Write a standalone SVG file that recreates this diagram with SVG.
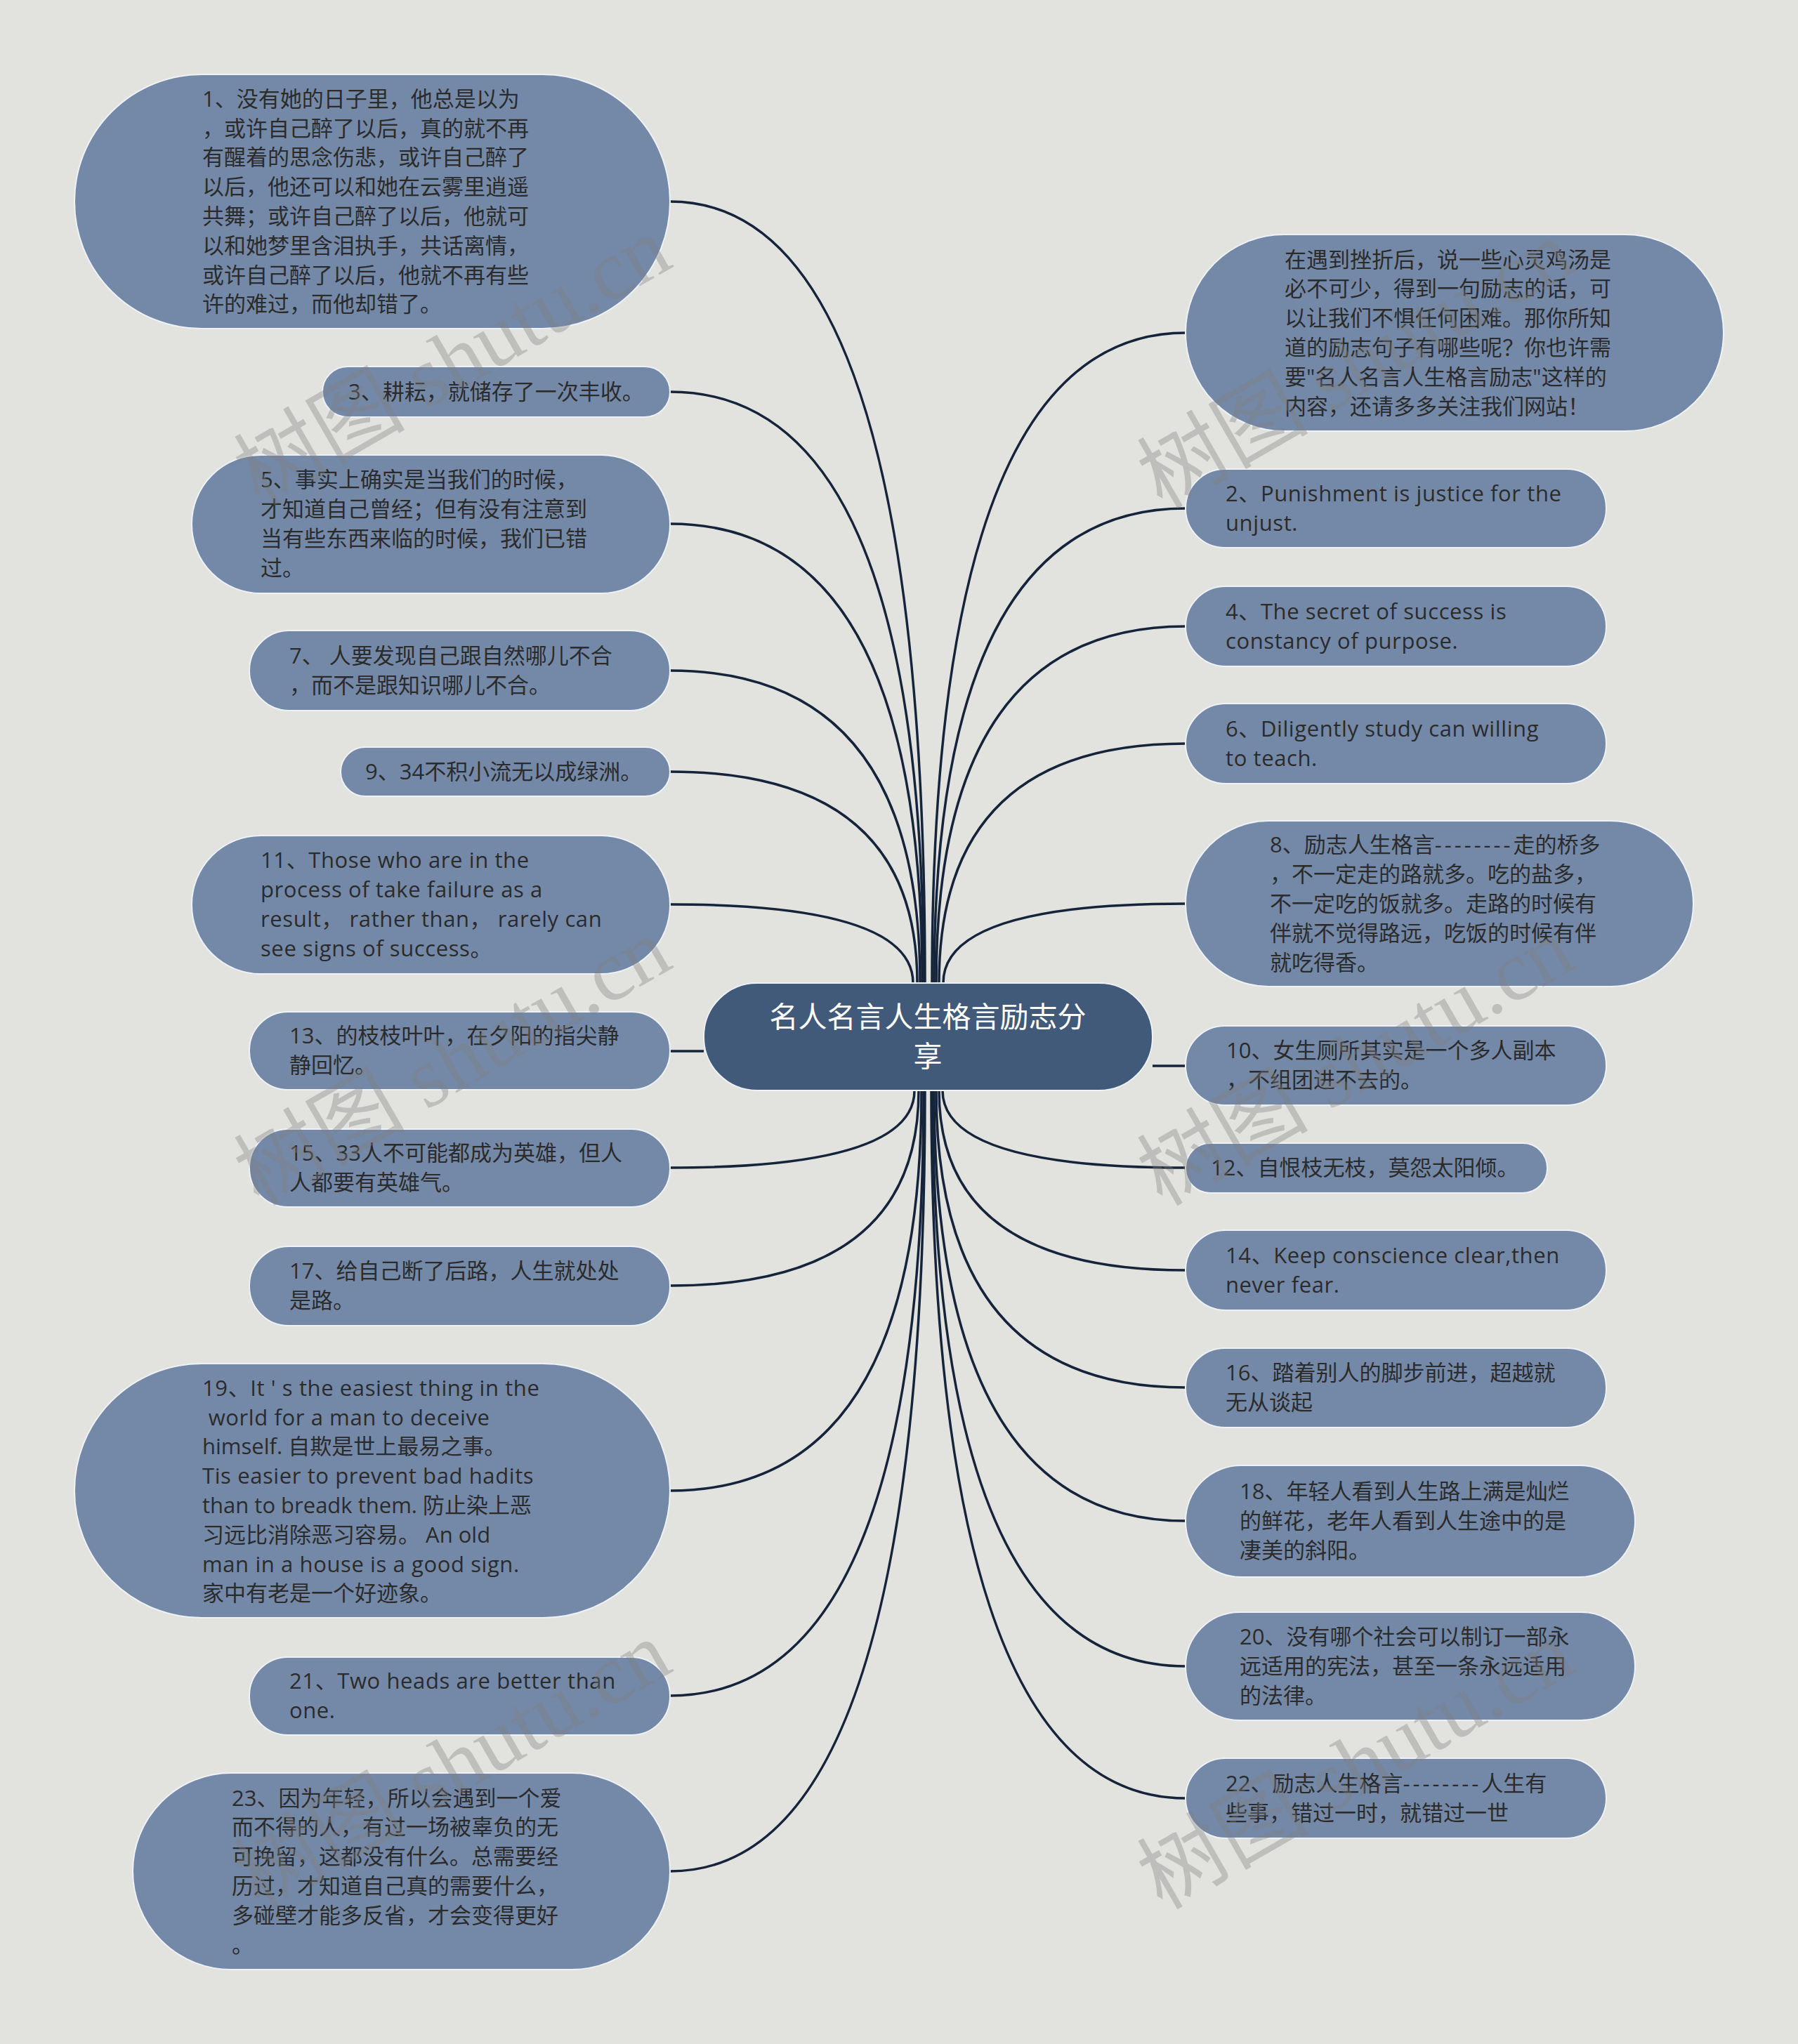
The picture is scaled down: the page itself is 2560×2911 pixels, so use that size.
<svg xmlns="http://www.w3.org/2000/svg" width="2560" height="2911" viewBox="0 0 2560 2911">
<style>
.n{fill:#7489a8;stroke:#eef2f7;stroke-width:2}
.c{fill:#415a7a;stroke:#eef2f7;stroke-width:2}
.t{font-family:"Open Sans","Noto Sans CJK SC",sans-serif;font-size:31px;fill:#2b2b2b}
.en{letter-spacing:0.6px}
.d{letter-spacing:4px}
.ct{font-family:"Open Sans","Noto Sans CJK SC",sans-serif;font-size:41px;fill:#ffffff;text-anchor:middle}
.e{fill:none;stroke:#15243a;stroke-width:3.5}
.w{font-family:"Liberation Serif","Noto Sans CJK SC",serif;font-size:122px;fill:#808080;fill-opacity:0.36;text-anchor:middle}
</style>
<rect width="2560" height="2911" fill="#e2e2de"/>
<g id="connectors">
<path class="e" d="M954,287 Q1317,287 1317,1400"/>
<path class="e" d="M954,558 Q1315,558 1315,1400"/>
<path class="e" d="M954,746 Q1313,746 1313,1400"/>
<path class="e" d="M954,955 Q1310,955 1310,1400"/>
<path class="e" d="M954,1099 Q1306,1099 1306,1400"/>
<path class="e" d="M954,1288 Q1300,1288 1300,1400"/>
<path class="e" d="M954,1497 L1002,1497"/>
<path class="e" d="M954,1663 Q1302,1663 1302,1553"/>
<path class="e" d="M954,1831 Q1308,1831 1308,1553"/>
<path class="e" d="M954,2123 Q1312,2123 1312,1553"/>
<path class="e" d="M954,2415 Q1315,2415 1315,1553"/>
<path class="e" d="M954,2665 Q1317,2665 1317,1553"/>
<path class="e" d="M1688,474 Q1327,474 1327,1400"/>
<path class="e" d="M1688,724 Q1330,724 1330,1400"/>
<path class="e" d="M1688,892 Q1333,892 1333,1400"/>
<path class="e" d="M1688,1059 Q1337,1059 1337,1400"/>
<path class="e" d="M1688,1287 Q1343,1287 1343,1400"/>
<path class="e" d="M1641,1518 L1688,1518"/>
<path class="e" d="M1688,1663 Q1342,1663 1342,1553"/>
<path class="e" d="M1688,1809 Q1337,1809 1337,1553"/>
<path class="e" d="M1688,1976 Q1333,1976 1333,1553"/>
<path class="e" d="M1688,2166 Q1330,2166 1330,1553"/>
<path class="e" d="M1688,2373 Q1328,2373 1328,1553"/>
<path class="e" d="M1688,2561 Q1326,2561 1326,1553"/>
</g>
<g id="center">
<rect class="c" x="1002" y="1400" width="639" height="153" rx="76"/>
<text class="ct"><tspan x="1321" y="1463">名人名言人生格言励志分</tspan><tspan x="1321" y="1519">享</tspan></text>
</g>
<g id="n1">
<rect class="n" x="106" y="106" width="848" height="362" rx="181"/>
<text class="t"><tspan x="288" y="151.7">1、没有她的日子里，他总是以为</tspan><tspan x="288" y="193.5">，或许自己醉了以后，真的就不再</tspan><tspan x="288" y="235.3">有醒着的思念伤悲，或许自己醉了</tspan><tspan x="288" y="277.1">以后，他还可以和她在云雾里逍遥</tspan><tspan x="288" y="318.9">共舞；或许自己醉了以后，他就可</tspan><tspan x="288" y="360.7">以和她梦里含泪执手，共话离情，</tspan><tspan x="288" y="402.5">或许自己醉了以后，他就不再有些</tspan><tspan x="288" y="444.3">许的难过，而他却错了。</tspan></text>
</g>
<g id="n3">
<rect class="n" x="459" y="522" width="495" height="72" rx="36"/>
<text class="t"><tspan x="496" y="569">3、耕耘，就储存了一次丰收。</tspan></text>
</g>
<g id="n5">
<rect class="n" x="273" y="648" width="681" height="197" rx="98"/>
<text class="t"><tspan x="371" y="694.3">5、事实上确实是当我们的时候，</tspan><tspan x="371" y="736.1">才知道自己曾经；但有没有注意到</tspan><tspan x="371" y="777.9">当有些东西来临的时候，我们已错</tspan><tspan x="371" y="819.7">过。</tspan></text>
</g>
<g id="n7">
<rect class="n" x="355" y="898" width="599" height="114" rx="57"/>
<text class="t" xml:space="preserve"><tspan x="412" y="945.1">7、 人要发现自己跟自然哪儿不合</tspan><tspan x="412" y="986.9">，而不是跟知识哪儿不合。</tspan></text>
</g>
<g id="n9">
<rect class="n" x="485" y="1064" width="469" height="70" rx="35"/>
<text class="t"><tspan x="520" y="1110">9、34不积小流无以成绿洲。</tspan></text>
</g>
<g id="n11">
<rect class="n" x="273" y="1190" width="681" height="197" rx="98"/>
<text class="t en" xml:space="preserve"><tspan x="371" y="1236.3">11、Those who are in the</tspan><tspan x="371" y="1278.1">process of take failure as a</tspan><tspan x="371" y="1319.9">result， rather than， rarely can</tspan><tspan x="371" y="1361.7">see signs of success。</tspan></text>
</g>
<g id="n13">
<rect class="n" x="355" y="1441" width="599" height="111" rx="55"/>
<text class="t"><tspan x="412" y="1486.1">13、的枝枝叶叶，在夕阳的指尖静</tspan><tspan x="412" y="1527.9">静回忆。</tspan></text>
</g>
<g id="n15">
<rect class="n" x="355" y="1608" width="599" height="111" rx="55"/>
<text class="t"><tspan x="412" y="1653.1">15、33人不可能都成为英雄，但人</tspan><tspan x="412" y="1694.9">人都要有英雄气。</tspan></text>
</g>
<g id="n17">
<rect class="n" x="355" y="1775" width="599" height="113" rx="56"/>
<text class="t"><tspan x="412" y="1821.1">17、给自己断了后路，人生就处处</tspan><tspan x="412" y="1862.9">是路。</tspan></text>
</g>
<g id="n19">
<rect class="n" x="106" y="1942" width="848" height="362" rx="181"/>
<text class="t" xml:space="preserve"><tspan x="288" y="1987.7" class="en">19、It ' s the easiest thing in the</tspan><tspan x="288" y="2029.5" class="en"> world for a man to deceive</tspan><tspan x="288" y="2071.3">himself. 自欺是世上最易之事。</tspan><tspan x="288" y="2113.1" class="en">Tis easier to prevent bad hadits</tspan><tspan x="288" y="2154.9">than to breadk them. 防止染上恶</tspan><tspan x="288" y="2196.7">习远比消除恶习容易。 An old</tspan><tspan x="288" y="2238.5" class="en">man in a house is a good sign.</tspan><tspan x="288" y="2280.3">家中有老是一个好迹象。</tspan></text>
</g>
<g id="n21">
<rect class="n" x="355" y="2360" width="599" height="111" rx="55"/>
<text class="t en"><tspan x="412" y="2405.1">21、Two heads are better than</tspan><tspan x="412" y="2446.9">one.</tspan></text>
</g>
<g id="n23">
<rect class="n" x="189" y="2525" width="765" height="280" rx="140"/>
<text class="t"><tspan x="330" y="2571.5">23、因为年轻，所以会遇到一个爱</tspan><tspan x="330" y="2613.3">而不得的人，有过一场被辜负的无</tspan><tspan x="330" y="2655.1">可挽留，这都没有什么。总需要经</tspan><tspan x="330" y="2696.9">历过，才知道自己真的需要什么，</tspan><tspan x="330" y="2738.7">多碰壁才能多反省，才会变得更好</tspan><tspan x="330" y="2780.5">。</tspan></text>
</g>
<g id="intro">
<rect class="n" x="1688" y="334" width="766" height="280" rx="140"/>
<text class="t"><tspan x="1829" y="380.5">在遇到挫折后，说一些心灵鸡汤是</tspan><tspan x="1829" y="422.3">必不可少，得到一句励志的话，可</tspan><tspan x="1829" y="464.1">以让我们不惧任何困难。那你所知</tspan><tspan x="1829" y="505.9">道的励志句子有哪些呢？你也许需</tspan><tspan x="1829" y="547.7">要"名人名言人生格言励志"这样的</tspan><tspan x="1829" y="589.5">内容，还请多多关注我们网站！</tspan></text>
</g>
<g id="n2">
<rect class="n" x="1688" y="668" width="599" height="112" rx="56"/>
<text class="t en"><tspan x="1745" y="714.1">2、Punishment is justice for the</tspan><tspan x="1745" y="755.9">unjust.</tspan></text>
</g>
<g id="n4">
<rect class="n" x="1688" y="835" width="599" height="114" rx="57"/>
<text class="t en"><tspan x="1745" y="882.1">4、The secret of success is</tspan><tspan x="1745" y="923.9">constancy of purpose.</tspan></text>
</g>
<g id="n6">
<rect class="n" x="1688" y="1002" width="599" height="114" rx="57"/>
<text class="t en"><tspan x="1745" y="1049.1">6、Diligently study can willing</tspan><tspan x="1745" y="1090.9">to teach.</tspan></text>
</g>
<g id="n8">
<rect class="n" x="1688" y="1169" width="723" height="236" rx="118"/>
<text class="t"><tspan x="1808" y="1214.4">8、励志人生格言<tspan class="d">--------</tspan>走的桥多</tspan><tspan x="1808" y="1256.2">，不一定走的路就多。吃的盐多，</tspan><tspan x="1808" y="1298">不一定吃的饭就多。走路的时候有</tspan><tspan x="1808" y="1339.8">伴就不觉得路远，吃饭的时候有伴</tspan><tspan x="1808" y="1381.6">就吃得香。</tspan></text>
</g>
<g id="n10">
<rect class="n" x="1688" y="1461" width="599" height="113" rx="56"/>
<text class="t"><tspan x="1746" y="1507.1">10、女生厕所其实是一个多人副本</tspan><tspan x="1746" y="1548.9">，不组团进不去的。</tspan></text>
</g>
<g id="n12">
<rect class="n" x="1688" y="1628" width="515" height="71" rx="35"/>
<text class="t"><tspan x="1724" y="1674">12、自恨枝无枝，莫怨太阳倾。</tspan></text>
</g>
<g id="n14">
<rect class="n" x="1688" y="1752" width="599" height="114" rx="57"/>
<text class="t en"><tspan x="1745" y="1799.1">14、Keep conscience clear,then</tspan><tspan x="1745" y="1840.9">never fear.</tspan></text>
</g>
<g id="n16">
<rect class="n" x="1688" y="1920" width="599" height="113" rx="56"/>
<text class="t"><tspan x="1745" y="1966.1">16、踏着别人的脚步前进，超越就</tspan><tspan x="1745" y="2007.9">无从谈起</tspan></text>
</g>
<g id="n18">
<rect class="n" x="1688" y="2087" width="640" height="159" rx="79"/>
<text class="t"><tspan x="1765" y="2135.2">18、年轻人看到人生路上满是灿烂</tspan><tspan x="1765" y="2177">的鲜花，老年人看到人生途中的是</tspan><tspan x="1765" y="2218.8">凄美的斜阳。</tspan></text>
</g>
<g id="n20">
<rect class="n" x="1688" y="2296" width="640" height="154" rx="77"/>
<text class="t"><tspan x="1765" y="2342.2">20、没有哪个社会可以制订一部永</tspan><tspan x="1765" y="2384">远适用的宪法，甚至一条永远适用</tspan><tspan x="1765" y="2425.8">的法律。</tspan></text>
</g>
<g id="n22">
<rect class="n" x="1688" y="2504" width="599" height="114" rx="57"/>
<text class="t"><tspan x="1745" y="2551.1">22、励志人生格言<tspan class="d">--------</tspan>人生有</tspan><tspan x="1745" y="2592.9">些事，错过一时，就错过一世</tspan></text>
</g>
<g id="watermarks">
<text class="w" transform="translate(645,515) rotate(-30)" y="40">树图 shutu.cn</text>
<text class="w" transform="translate(1931,520) rotate(-30)" y="40">树图 shutu.cn</text>
<text class="w" transform="translate(645,1513) rotate(-30)" y="40">树图 shutu.cn</text>
<text class="w" transform="translate(1931,1513) rotate(-30)" y="40">树图 shutu.cn</text>
<text class="w" transform="translate(645,2515) rotate(-30)" y="40">树图 shutu.cn</text>
<text class="w" transform="translate(1931,2515) rotate(-30)" y="40">树图 shutu.cn</text>
</g>
</svg>
